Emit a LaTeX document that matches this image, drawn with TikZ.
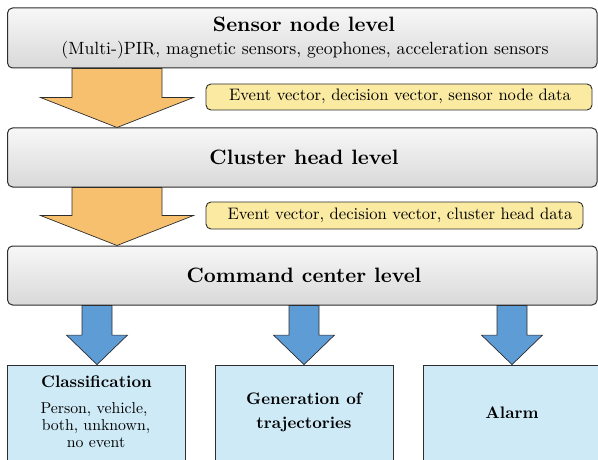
\documentclass[tikz,border=0pt]{standalone}
\usetikzlibrary{calc}
\definecolor{orangeA}{RGB}{247,192,110}
\definecolor{yellowA}{RGB}{250,234,162}
\definecolor{blueA}{RGB}{93,156,212}
\definecolor{blueBox}{RGB}{206,234,246}
\definecolor{lineA}{RGB}{45,45,45}
\newcommand\fatarrow[7]{%
  \filldraw[#1] let \p1=(#3.south), \p2=(#4.north) in
    (#2pt-#5pt,\y1) -- (#2pt+#5pt,\y1) -- (#2pt+#5pt,\y2+#7pt) -- (#2pt+#6pt,\y2+#7pt)
    -- (#2pt,\y2) -- (#2pt-#6pt,\y2+#7pt) -- (#2pt-#5pt,\y2+#7pt) -- cycle;}
\begin{document}
\begin{tikzpicture}[x=1pt,y=1pt,
  levelbox/.style={draw=lineA, line width=1pt, rounded corners=5pt,
    top color=gray!6, bottom color=gray!30, minimum width=589.5pt, inner sep=0pt},
  titletext/.style={font=\bfseries, scale=2.08, inner sep=0pt, anchor=base},
  subtext/.style={scale=1.77, inner sep=0pt, anchor=base},
  databox/.style={draw=lineA, line width=0.9pt, rounded corners=5pt, fill=yellowA, inner sep=0pt},
  datatext/.style={scale=1.66, inner sep=0pt, anchor=base},
  resultbox/.style={draw=lineA, line width=0.8pt, fill=blueBox, minimum width=178pt,
    minimum height=100pt, inner sep=0pt},
  restitle/.style={font=\bfseries, scale=1.67, inner sep=0pt, anchor=base},
  restext/.style={scale=1.58, inner sep=0pt, anchor=base},
  orangearrow/.style={fill=orangeA, draw=lineA, line width=0.7pt, line join=miter},
  bluearrow/.style={fill=blueA, draw=lineA, line width=0.7pt, line join=miter}
]
\useasboundingbox (0,0) rectangle (598,459);
% level boxes
\node[levelbox, minimum height=60pt] (sensor) at (302.3,421) {};
\node[titletext] (sensortitle) at (304,427) {Sensor node level};
\node[subtext] (sensorsub) at (305,404) {(Multi-)PIR, magnetic sensors, geophones, acceleration sensors};
\node[levelbox, minimum height=59pt] (cluster) at (302.3,301.5) {};
\node[titletext] (clustertitle) at (304,294.5) {Cluster head level};
\node[levelbox, minimum height=59pt] (command) at (302.3,183.5) {};
\node[titletext] (commandtitle) at (304,176.5) {Command center level};
% data labels
\node[databox, minimum width=386pt, minimum height=26pt] (lab1) at (399,362) {};
\node[datatext] (lab1text) at (400,358) {Event vector, decision vector, sensor node data};
\node[databox, minimum width=377pt, minimum height=27pt] (lab2) at (394.5,243.5) {};
\node[datatext] (lab2text) at (400,239.5) {Event vector, decision vector, cluster head data};
% result boxes
\node[resultbox] (cls) at (96,44) {};
\node[resultbox] (gen) at (304,44) {};
\node[resultbox] (alarm) at (512,44) {};
\node[restitle] (clsA) at (96.5,72) {Classification};
\node[restext] (clsB) at (94,46) {Person, vehicle,};
\node[restext] (clsC) at (96,29) {both, unknown,};
\node[restext] (clsD) at (96,12) {no event};
\node[restitle] (genA) at (304,55) {Generation of};
\node[restitle] (genB) at (304,31) {trajectories};
\node[restitle] (alarmA) at (512,41) {Alarm};
% arrows
\fatarrow{orangearrow}{117}{sensor}{cluster}{45}{76.5}{30}
\fatarrow{orangearrow}{117}{cluster}{command}{45}{76.5}{30}
\fatarrow{bluearrow}{97}{command}{cls}{15}{30.5}{29.5}
\fatarrow{bluearrow}{304}{command}{gen}{15}{30.5}{29.5}
\fatarrow{bluearrow}{512}{command}{alarm}{15}{30.5}{29.5}
\end{tikzpicture}
\end{document}
